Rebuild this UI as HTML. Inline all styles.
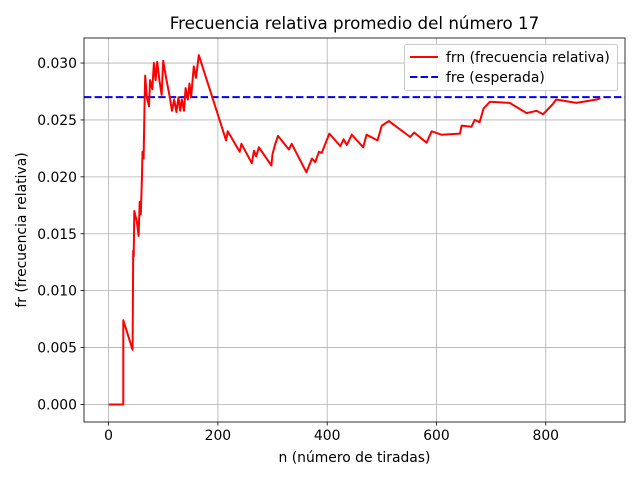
<!DOCTYPE html>
<html><head><meta charset="utf-8"><style>
body{margin:0;background:#fff;}
svg{font-family:"DejaVu Sans","Liberation Sans",sans-serif;}
</style></head><body>
<svg id="chart" width="640" height="480" xmlns="http://www.w3.org/2000/svg"></svg>
<script>
const nValues=[0,27,27,44,45,46,47,52,55,57,59,61,62,64,66,67,70,74,76,80,83,86,89,93,97,100,106,112,116,120,124,128,131,134,138,141,145,148,151,156,160,165,215,218,240,243,262,266,270,275,298,300,305,310,330,335,362,372,378,385,390,404,424,430,436,445,466,472,492,500,513,552,559,582,591,609,643,646,664,670,679,686,698,734,765,783,795,813,819,856,893,900];
const frnValues=[0,0,0.0074,0.0048,0.0135,0.013,0.0170,0.016,0.0148,0.0178,0.0167,0.0198,0.0222,0.0216,0.0270,0.0289,0.027,0.0262,0.0285,0.0277,0.030,0.0285,0.0301,0.0285,0.0272,0.0302,0.0285,0.0270,0.0258,0.0268,0.0257,0.027,0.0258,0.0268,0.0258,0.0278,0.0268,0.0282,0.0270,0.0297,0.0287,0.0307,0.0232,0.024,0.0222,0.0229,0.0212,0.0223,0.0218,0.0226,0.021,0.022,0.0229,0.0236,0.0224,0.0229,0.0204,0.0216,0.0213,0.0222,0.0221,0.0238,0.0227,0.0233,0.0228,0.0237,0.0226,0.0237,0.0232,0.0245,0.0249,0.0235,0.0239,0.0230,0.0240,0.0237,0.0238,0.0245,0.0244,0.0250,0.0248,0.0260,0.0266,0.0265,0.0256,0.0258,0.0255,0.0264,0.0268,0.0265,0.0268,0.0269];
const expected=[0.027];
const xTicks=[0,200,400,600,800];
const yTicks=[0,0.005,0.010,0.015,0.020,0.025,0.030];
const yTickLabels=["0.000","0.005","0.010","0.015","0.020","0.025","0.030"];

const L=84,R=625,T=38,B=422;
const xmin=-45,xmax=945,ymin=-0.00154,ymax=0.0322;
const sx=v=>L+(v-xmin)/(xmax-xmin)*(R-L);
const sy=v=>B-(v-ymin)/(ymax-ymin)*(B-T);
const svg=document.getElementById('chart');
const NS="http://www.w3.org/2000/svg";
function mk(tag,attrs,txt){const e=document.createElementNS(NS,tag);for(const k in attrs)e.setAttribute(k,attrs[k]);if(txt!==undefined)e.textContent=txt;svg.appendChild(e);return e;}

xTicks.forEach(t=>{const x=sx(t);
 const g=mk('line',{x1:x,x2:x,y1:T,y2:B,stroke:'#b0b0b0','stroke-width':0.8});
 
 mk('line',{x1:x,x2:x,y1:B,y2:B+3.5,stroke:'#000','stroke-width':0.8});
 const l=mk('text',{x:x,y:B+18,'font-size':13.9,'text-anchor':'middle'},String(t));
 
});
yTicks.forEach((t,i)=>{const y=sy(t);
 const g=mk('line',{x1:L,x2:R,y1:y,y2:y,stroke:'#b0b0b0','stroke-width':0.8});
 
 mk('line',{x1:L-3.5,x2:L,y1:y,y2:y,stroke:'#000','stroke-width':0.8});
 const l=mk('text',{x:L-7,y:y+5,'font-size':13.9,'text-anchor':'end'},yTickLabels[i]);
 
});
const ex=mk('line',{x1:L,x2:R,y1:sy(expected[0]),y2:sy(expected[0]),stroke:'#0000ff','stroke-width':2,'stroke-dasharray':'7.4,3.2'});

const pts=nValues.map((n,i)=>sx(n).toFixed(1)+','+sy(frnValues[i]).toFixed(1)).join(' ');
const ln=mk('polyline',{points:pts,fill:'none',stroke:'#ff0000','stroke-width':2,'stroke-linejoin':'round'});

const fr=mk('rect',{x:L,y:T,width:R-L,height:B-T,fill:'none',stroke:'#000','stroke-width':0.8});

const ti=mk('text',{x:(L+R)/2,y:29,'font-size':16.7,'text-anchor':'middle'},'Frecuencia relativa promedio del número 17');

const xl=mk('text',{x:(L+R)/2,y:462,'font-size':13.9,'text-anchor':'middle'},'n (número de tiradas)');

const yl=mk('text',{x:26,y:(T+B)/2,'font-size':13.9,'text-anchor':'middle',transform:'rotate(-90 26 '+((T+B)/2)+')'},'fr (frecuencia relativa)');

const lb=mk('rect',{x:404.5,y:44.5,width:213,height:46,rx:2,fill:'#fff','fill-opacity':0.8,stroke:'#cccccc','stroke-width':1});

mk('line',{x1:410,x2:438,y1:57,y2:57,stroke:'#ff0000','stroke-width':2});
const e1=mk('text',{x:446,y:62,'font-size':13.9},'frn (frecuencia relativa)');

mk('line',{x1:410,x2:438,y1:77,y2:77,stroke:'#0000ff','stroke-width':2,'stroke-dasharray':'7.4,3.2'});
const e2=mk('text',{x:446,y:82,'font-size':13.9},'fre (esperada)');

</script>
</body></html>
